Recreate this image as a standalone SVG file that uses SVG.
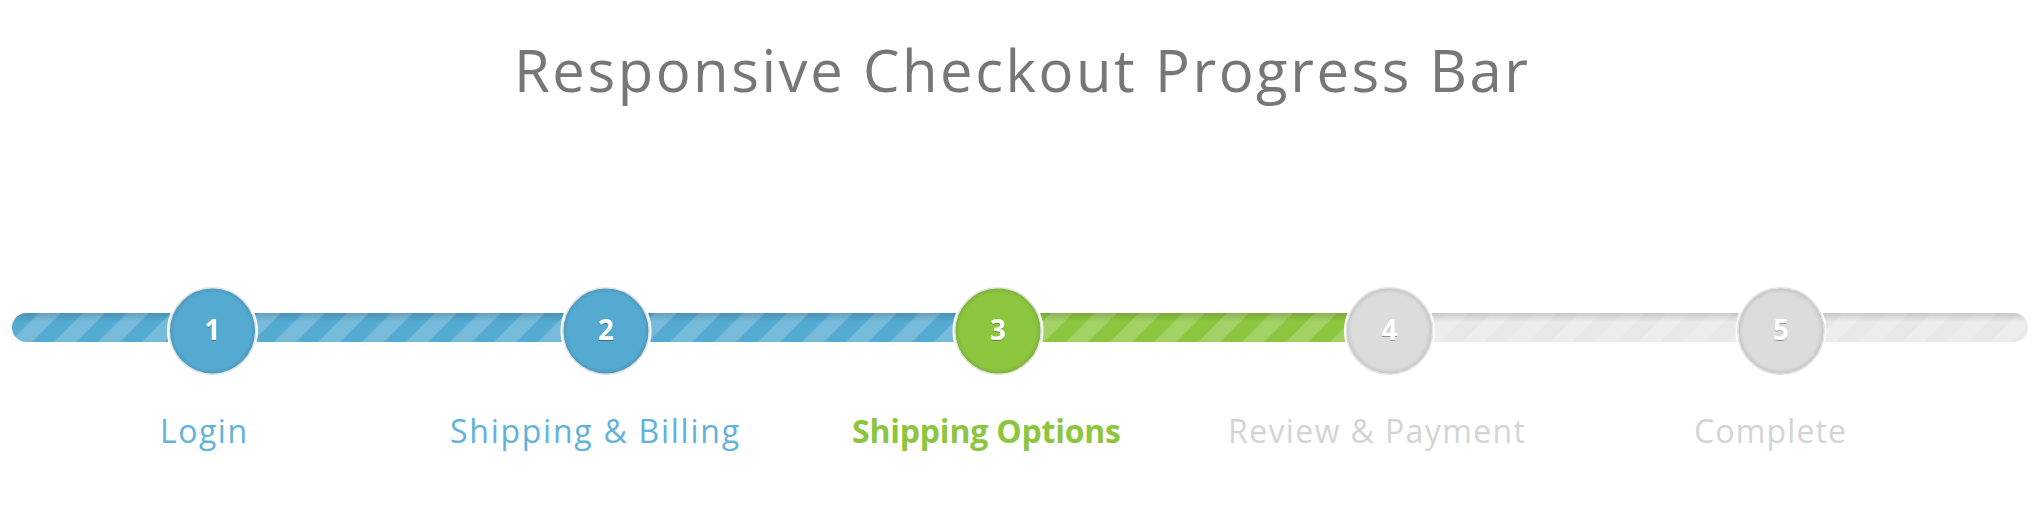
<svg xmlns="http://www.w3.org/2000/svg" width="2040" height="528" viewBox="0 0 2040 528">
  <style>
    .title { font-family: "Open Sans", "Noto Sans", "Liberation Sans", sans-serif; font-size: 58px; fill: #777777; }
    .num { font-family: "Open Sans", "Noto Sans", "Liberation Sans", sans-serif; font-size: 28px; font-weight: bold; fill: #ffffff; text-anchor: middle; }
    .lbl { font-family: "Open Sans", "Noto Sans", "Liberation Sans", sans-serif; font-size: 32px; text-anchor: middle; }
    .done { fill: #62b2da; }
    .cur { fill: #8cc63f; font-weight: bold; }
    .todo { fill: #d4d4d4; }
    .ring { stroke: #ffffff; stroke-width: 3; }
  </style>
  <defs>
    <pattern id="stripe" patternUnits="userSpaceOnUse" x="0" y="0" width="44" height="44">
      <polygon points="0,0 22,0 0,22" fill="#ffffff" fill-opacity="0.2"/>
      <polygon points="44,0 0,44 22,44 44,22" fill="#ffffff" fill-opacity="0.2"/>
    </pattern>
    <linearGradient id="barShade" x1="0" y1="0" x2="0" y2="1">
      <stop offset="0" stop-color="#000000" stop-opacity="0.14"/>
      <stop offset="0.3" stop-color="#000000" stop-opacity="0"/>
      <stop offset="1" stop-color="#000000" stop-opacity="0"/>
    </linearGradient>
    <radialGradient id="circShade" cx="0.5" cy="0.5" r="0.5">
      <stop offset="0.86" stop-color="#000000" stop-opacity="0"/>
      <stop offset="1" stop-color="#000000" stop-opacity="0.13"/>
    </radialGradient>
    <clipPath id="barClip">
      <rect x="12" y="313" width="2016" height="29" rx="14.5" ry="14.5"/>
    </clipPath>
    <filter id="txtShadow" x="-50%" y="-50%" width="200%" height="200%">
      <feDropShadow dx="0" dy="1" stdDeviation="0.6" flood-color="#000000" flood-opacity="0.35"/>
    </filter>
  </defs>

  <rect width="2040" height="528" fill="#ffffff"/>

  <text class="title" x="1021" y="92" text-anchor="middle" textLength="1014" lengthAdjust="spacing">Responsive Checkout Progress Bar</text>

  <g id="connectors" clip-path="url(#barClip)">
    <rect x="12" y="313" width="986" height="29" fill="#55aad2"/>
    <rect x="998" y="313" width="392" height="29" fill="#8cc63f"/>
    <rect x="1390" y="313" width="640" height="29" fill="#e8e8e8"/>
    <rect x="12" y="313" width="2016" height="29" fill="url(#stripe)"/>
    <rect x="12" y="313" width="2016" height="29" fill="url(#barShade)"/>
  </g>

  <g id="step1">
    <circle class="ring" cx="212.5" cy="331" r="44" fill="#55aad2"/>
    <circle cx="212.5" cy="331" r="44" fill="url(#circShade)"/>
    <text class="num" x="212.5" y="340" filter="url(#txtShadow)">1</text>
    <text class="lbl done" x="203.5" y="443" textLength="87" lengthAdjust="spacing">Login</text>
  </g>
  <g id="step2">
    <circle class="ring" cx="606" cy="331" r="44" fill="#55aad2"/>
    <circle cx="606" cy="331" r="44" fill="url(#circShade)"/>
    <text class="num" x="606" y="340" filter="url(#txtShadow)">2</text>
    <text class="lbl done" x="594.5" y="443" textLength="289" lengthAdjust="spacing">Shipping &amp; Billing</text>
  </g>
  <g id="step3">
    <circle class="ring" cx="998" cy="331" r="44" fill="#8cc63f"/>
    <circle cx="998" cy="331" r="44" fill="url(#circShade)"/>
    <text class="num" x="998" y="340" filter="url(#txtShadow)">3</text>
    <text class="lbl cur" x="986.5" y="443" textLength="269" lengthAdjust="spacing">Shipping Options</text>
  </g>
  <g id="step4">
    <circle class="ring" cx="1389.5" cy="331" r="44" fill="#dcdcdc"/>
    <circle cx="1389.5" cy="331" r="44" fill="url(#circShade)"/>
    <text class="num" x="1389.5" y="340" filter="url(#txtShadow)">4</text>
    <text class="lbl todo" x="1376.5" y="443" textLength="297" lengthAdjust="spacing">Review &amp; Payment</text>
  </g>
  <g id="step5">
    <circle class="ring" cx="1781" cy="331" r="44" fill="#dcdcdc"/>
    <circle cx="1781" cy="331" r="44" fill="url(#circShade)"/>
    <text class="num" x="1781" y="340" filter="url(#txtShadow)">5</text>
    <text class="lbl todo" x="1770" y="443" textLength="152" lengthAdjust="spacing">Complete</text>
  </g>
</svg>
